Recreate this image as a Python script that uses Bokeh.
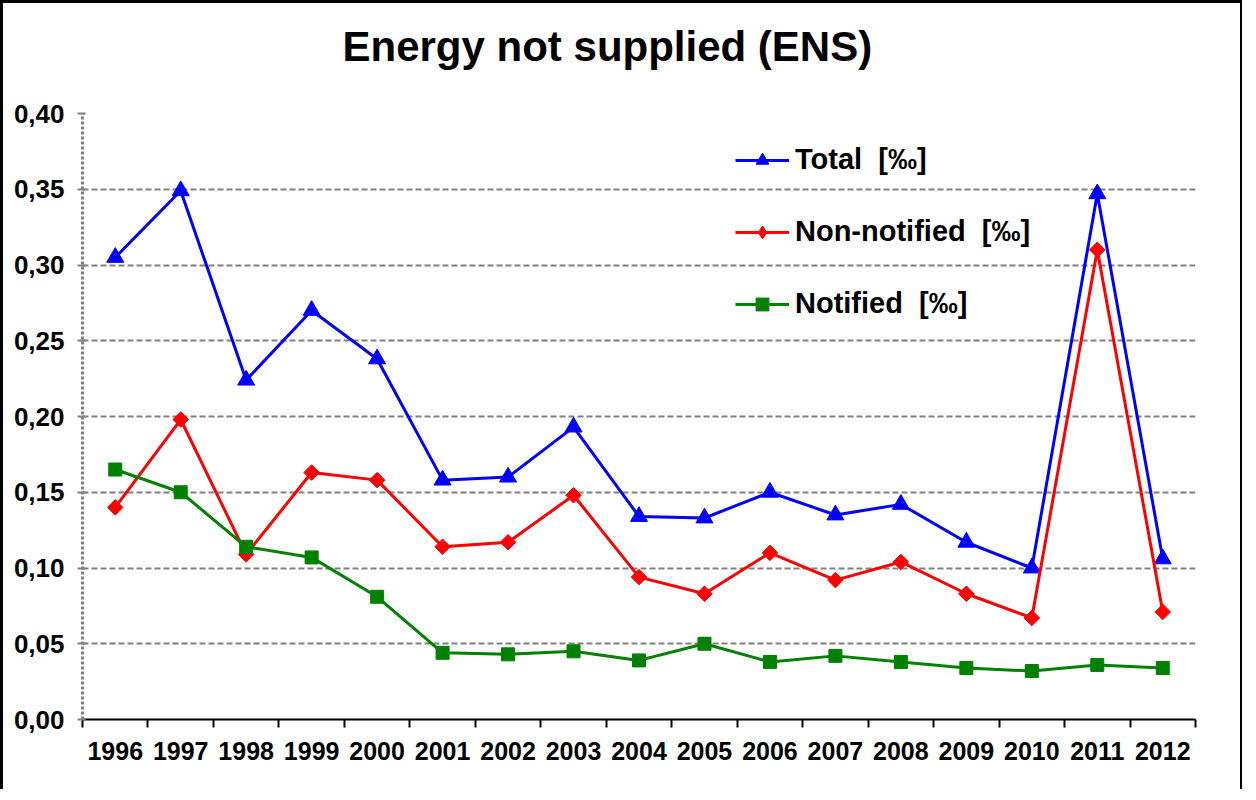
from bokeh.plotting import figure
from bokeh.models import (FixedTicker, CustomJSTickFormatter, Legend, LegendItem, Range1d,
                          Title, ColumnDataSource, CDSView, IndexFilter)
from bokeh.embed import file_html
from bokeh.resources import INLINE

years = ["1996", "1997", "1998", "1999", "2000", "2001", "2002", "2003", "2004",
         "2005", "2006", "2007", "2008", "2009", "2010", "2011", "2012"]
total = [0.305, 0.349, 0.224, 0.270, 0.238, 0.158, 0.160, 0.193, 0.134,
         0.133, 0.150, 0.135, 0.142, 0.117, 0.100, 0.347, 0.106]
non_notified = [0.140, 0.198, 0.109, 0.163, 0.158, 0.114, 0.117, 0.148, 0.094,
                0.083, 0.110, 0.092, 0.104, 0.083, 0.067, 0.310, 0.071]
notified = [0.165, 0.150, 0.114, 0.107, 0.081, 0.044, 0.043, 0.045, 0.039,
            0.050, 0.038, 0.042, 0.038, 0.034, 0.032, 0.036, 0.034]
y_ticks = [0.0, 0.05, 0.10, 0.15, 0.20, 0.25, 0.30, 0.35, 0.40]
labels = ["Total  [‰]", "Non-notified  [‰]", "Notified  [‰]"]
title = "Energy not supplied (ENS)"

n = len(years)
xc = [i + 0.5 for i in range(n)]
FONT = "Liberation Sans"

p = figure(width=1242, height=789, output_backend="svg", toolbar_location=None,
           x_range=Range1d(0, n), y_range=Range1d(0, 0.40),
           min_border_left=79, min_border_right=50, min_border_top=110, min_border_bottom=73,
           background_fill_color="white", border_fill_color="white",
           styles={"border-left": "3px solid black", "border-top": "3px solid black",
                   "border-right": "2px solid black"})
p.outline_line_color = None

# spacer between title and plot frame
p.add_layout(Title(text=" ", text_font_size="1px", standoff=36), "above")
p.title.text = title
p.title.align = "left"
p.title.offset = 260
p.title.standoff = 10
p.title.text_font = FONT
p.title.text_font_size = "42px"
p.title.text_font_style = "bold"
p.title.text_color = "black"

# axes
xa = p.xaxis[0]
xa.ticker = FixedTicker(ticks=xc, minor_ticks=list(range(n + 1)))
xa.formatter = CustomJSTickFormatter(args=dict(labels=years),
                                     code="return labels[Math.floor(tick)];")
xa.axis_line_color = "black"
xa.axis_line_width = 2
xa.major_tick_out = 0
xa.major_tick_in = 0
xa.minor_tick_out = 8
xa.minor_tick_in = 0
xa.minor_tick_line_color = "black"
xa.minor_tick_line_width = 2
xa.major_label_text_font = FONT
xa.major_label_text_font_style = "bold"
xa.major_label_text_font_size = "25px"
xa.major_label_text_color = "black"
xa.major_label_standoff = 14

ya = p.yaxis[0]
ya.ticker = FixedTicker(ticks=y_ticks, minor_ticks=[])
ya.formatter = CustomJSTickFormatter(code="return tick.toFixed(2).replace('.', ',');")
ya.axis_line_color = "#808080"
ya.axis_line_width = 3
ya.axis_line_dash = "3 2"
ya.major_tick_out = 5
ya.major_tick_in = 3
ya.major_tick_line_color = "#808080"
ya.major_tick_line_width = 2
ya.major_label_text_font = FONT
ya.major_label_text_font_style = "bold"
ya.major_label_text_font_size = "26px"
ya.major_label_text_color = "black"
ya.major_label_standoff = 13

p.xgrid.grid_line_color = None
p.ygrid.ticker = FixedTicker(ticks=y_ticks[1:])
p.ygrid.grid_line_color = "#808080"
p.ygrid.grid_line_width = 2
p.ygrid.grid_line_dash = "6 3"

# series
src = ColumnDataSource(dict(x=xc, total=total, non=non_notified, notif=notified))
l1 = p.line("x", "total", source=src, line_color="#0000FF", line_width=3)
m1 = p.scatter("x", "total", source=src, marker="triangle", size=17,
               fill_color="#0000FF", line_color="#0000FF")
l2 = p.line("x", "non", source=src, line_color="#FF0000", line_width=3)
# diamond used for the legend swatch (hidden beneath the first data marker)
m2_leg = p.scatter("x", "non", source=src, view=CDSView(filter=IndexFilter([0])),
                   marker="diamond", size=15, fill_color="#FF0000", line_color="#FF0000")
m2 = p.scatter("x", "non", source=src, marker="square", angle=0.785398, size=11,
               fill_color="#FF0000", line_color="#FF0000")
l3 = p.line("x", "notif", source=src, line_color="#008000", line_width=3)
m3 = p.scatter("x", "notif", source=src, marker="square", size=13,
               fill_color="#008000", line_color="#008000")

legend = Legend(items=[LegendItem(label=labels[0], renderers=[l1, m1]),
                       LegendItem(label=labels[1], renderers=[l2, m2_leg]),
                       LegendItem(label=labels[2], renderers=[l3, m3])],
                location=(653, 399), orientation="vertical",
                glyph_width=54, glyph_height=32, label_height=32, label_standoff=6,
                spacing=39, padding=0, margin=0,
                background_fill_alpha=0, border_line_color=None,
                label_text_font=FONT, label_text_font_style="bold",
                label_text_font_size="29px", label_text_color="black")
p.add_layout(legend, "center")

open("out.html", "w").write(file_html(p, INLINE))
